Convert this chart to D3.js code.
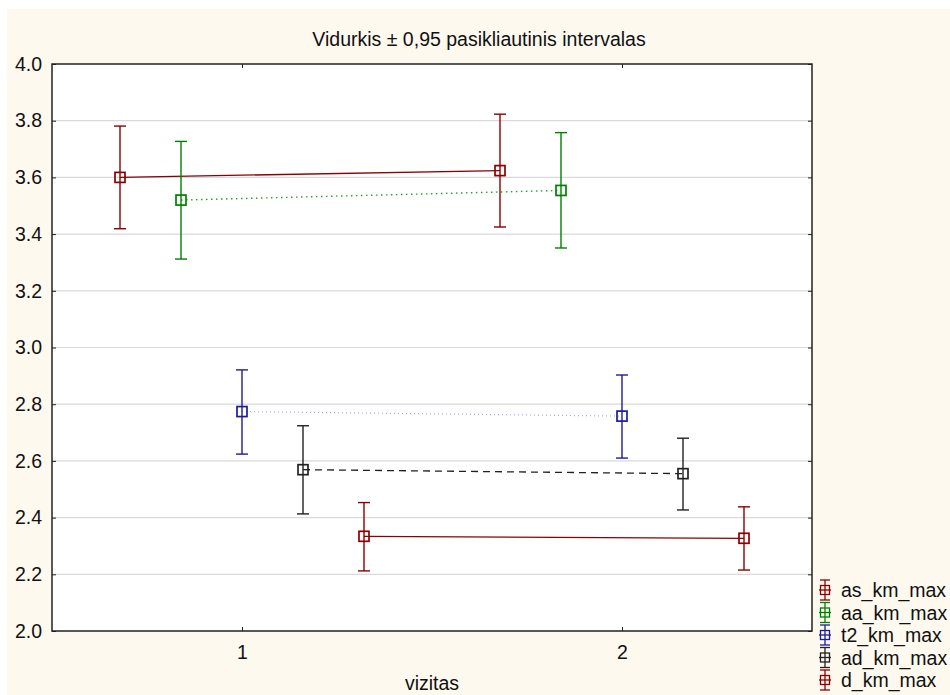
<!DOCTYPE html>
<html>
<head>
<meta charset="utf-8">
<script src="https://cdn.jsdelivr.net/npm/d3@7"></script>
<style>
  html, body { margin: 0; padding: 0; background: #ffffff; }
  svg { display: block; }
  text { font-family: "Liberation Sans", Arial, sans-serif; fill: #111; }
</style>
</head>
<body>
<svg id="chart" width="950" height="695"></svg>
<script>
// ---- data ----
const categories = ["1", "2"];
const seriesNames = ["as_km_max", "aa_km_max", "t2_km_max", "ad_km_max", "d_km_max"];
const as_mean = [3.600, 3.624];
const as_low  = [3.419, 3.425];
const as_high = [3.781, 3.823];
const aa_mean = [3.520, 3.554];
const aa_low  = [3.312, 3.351];
const aa_high = [3.727, 3.758];
const t2_mean = [2.774, 2.758];
const t2_low  = [2.624, 2.610];
const t2_high = [2.921, 2.903];
const ad_mean = [2.569, 2.555];
const ad_low  = [2.413, 2.427];
const ad_high = [2.724, 2.680];
const d_mean  = [2.334, 2.327];
const d_low   = [2.212, 2.215];
const d_high  = [2.453, 2.438];
const yTicks = [2.0, 2.2, 2.4, 2.6, 2.8, 3.0, 3.2, 3.4, 3.6, 3.8, 4.0];
const titleText = "Vidurkis \u00B1 0,95 pasikliautinis intervalas";
const xLabel = "vizitas";

// ---- styles ----
const styles = [
  { color: "#8b0000", line: "#8b0000", dash: null, lw: 1.3 },
  { color: "#008000", line: "#22a022", dash: "1.5,3.5", lw: 1.4 },
  { color: "#1c1c9a", line: "#a8a8e0", dash: "1,3", lw: 1.2 },
  { color: "#222222", line: "#222222", dash: "7,5", lw: 1.3 },
  { color: "#8b0000", line: "#8b0000", dash: null, lw: 1.3 }
];
const offsets = [-2, -1, 0, 1, 2];

const series = [
  { name: seriesNames[0], mean: as_mean, low: as_low, high: as_high },
  { name: seriesNames[1], mean: aa_mean, low: aa_low, high: aa_high },
  { name: seriesNames[2], mean: t2_mean, low: t2_low, high: t2_high },
  { name: seriesNames[3], mean: ad_mean, low: ad_low, high: ad_high },
  { name: seriesNames[4], mean: d_mean,  low: d_low,  high: d_high }
];

const svg = d3.select("#chart");
const W = 950, H = 695;
const plot = { left: 52, top: 64, right: 812, bottom: 631 };

// background
svg.append("rect").attr("x", 0).attr("y", 0).attr("width", W).attr("height", H).attr("fill", "#ffffff");
svg.append("rect").attr("x", 7).attr("y", 9).attr("width", W - 7).attr("height", H - 9).attr("fill", "#fdf9ef");
svg.append("rect").attr("x", plot.left).attr("y", plot.top)
  .attr("width", plot.right - plot.left).attr("height", plot.bottom - plot.top).attr("fill", "#ffffff");

const x = d3.scaleLinear().domain([0.5, 2.5]).range([plot.left, plot.right]);
const y = d3.scaleLinear().domain([2.0, 4.0]).range([plot.bottom, plot.top]);
const offStep = 61;

// gridlines
svg.append("g").selectAll("line").data(yTicks.filter(t => t > 2.0 && t < 4.0)).join("line")
  .attr("x1", plot.left).attr("x2", plot.right)
  .attr("y1", d => y(d)).attr("y2", d => y(d))
  .attr("stroke", "#d9d9d9").attr("stroke-width", 1.2);

// axes
const fmt = d3.format(".1f");
const yAxisL = d3.axisLeft(y).tickValues(yTicks).tickFormat(fmt).tickSize(-4).tickPadding(10);
const gL = svg.append("g").attr("transform", `translate(${plot.left},0)`).call(yAxisL);
const yAxisR = d3.axisRight(y).tickValues(yTicks).tickFormat("").tickSize(-4);
const gR = svg.append("g").attr("transform", `translate(${plot.right},0)`).call(yAxisR);
const xAxisB = d3.axisBottom(x).tickValues([1, 2]).tickFormat((d, i) => categories[i]).tickSize(-4).tickPadding(14);
const gB = svg.append("g").attr("transform", `translate(0,${plot.bottom})`).call(xAxisB);
const xAxisT = d3.axisTop(x).tickValues([1, 2]).tickFormat("").tickSize(-4);
const gT = svg.append("g").attr("transform", `translate(0,${plot.top})`).call(xAxisT);
[gL, gR, gB, gT].forEach(g => {
  g.select(".domain").remove();
  g.selectAll(".tick line").attr("stroke", "#222").attr("stroke-width", 1);
  g.selectAll("text").attr("font-size", 19.5).attr("fill", "#111")
    .attr("font-family", "'Liberation Sans', Arial, sans-serif");
});

// frame
svg.append("rect").attr("x", plot.left).attr("y", plot.top)
  .attr("width", plot.right - plot.left).attr("height", plot.bottom - plot.top)
  .attr("fill", "none").attr("stroke", "#222").attr("stroke-width", 1.5);

// series
const capW = 6, sq = 10;
series.forEach((s, si) => {
  const st = styles[si];
  const g = svg.append("g");
  const px = i => x(i + 1) + offsets[si] * offStep;
  const line = d3.line().x((d, i) => px(i)).y(d => y(d));
  g.append("path").attr("d", line(s.mean)).attr("fill", "none")
    .attr("stroke", st.line).attr("stroke-width", st.lw)
    .attr("stroke-dasharray", st.dash);
  s.mean.forEach((m, i) => {
    const cx = px(i);
    g.append("line").attr("x1", cx).attr("x2", cx).attr("y1", y(s.low[i])).attr("y2", y(s.high[i]))
      .attr("stroke", st.color).attr("stroke-width", 1.4);
    [s.low[i], s.high[i]].forEach(v => {
      g.append("line").attr("x1", cx - capW).attr("x2", cx + capW).attr("y1", y(v)).attr("y2", y(v))
        .attr("stroke", st.color).attr("stroke-width", 1.4);
    });
    g.append("rect").attr("x", cx - sq / 2).attr("y", y(m) - sq / 2).attr("width", sq).attr("height", sq)
      .attr("fill", "none").attr("stroke", st.color).attr("stroke-width", 1.7);
  });
});

// title
svg.append("text").attr("x", 479).attr("y", 46).attr("text-anchor", "middle")
  .attr("font-size", 19.5).text(titleText);
// x label
svg.append("text").attr("x", (plot.left + plot.right) / 2).attr("y", 690).attr("text-anchor", "middle")
  .attr("font-size", 19.5).text(xLabel);

// legend
const lg = svg.append("g");
series.forEach((s, si) => {
  const st = styles[si];
  const cy = 590 + si * 22.5;
  const cx = 825;
  const gi = lg.append("g");
  gi.append("line").attr("x1", cx).attr("x2", cx).attr("y1", cy - 10).attr("y2", cy + 10)
    .attr("stroke", st.color).attr("stroke-width", 1.3);
  [cy - 10, cy + 10].forEach(yy => gi.append("line").attr("x1", cx - 5).attr("x2", cx + 5)
    .attr("y1", yy).attr("y2", yy).attr("stroke", st.color).attr("stroke-width", 1.3));
  gi.append("line").attr("x1", cx - 6).attr("x2", cx + 6).attr("y1", cy).attr("y2", cy)
    .attr("stroke", st.color).attr("stroke-width", 1.3);
  gi.append("rect").attr("x", cx - 4.5).attr("y", cy - 4.5).attr("width", 9).attr("height", 9)
    .attr("fill", "none").attr("stroke", st.color).attr("stroke-width", 1.3);
  lg.append("text").attr("x", 841).attr("y", cy + 7).attr("font-size", 19.5).text(s.name);
});
</script>
</body>
</html>
